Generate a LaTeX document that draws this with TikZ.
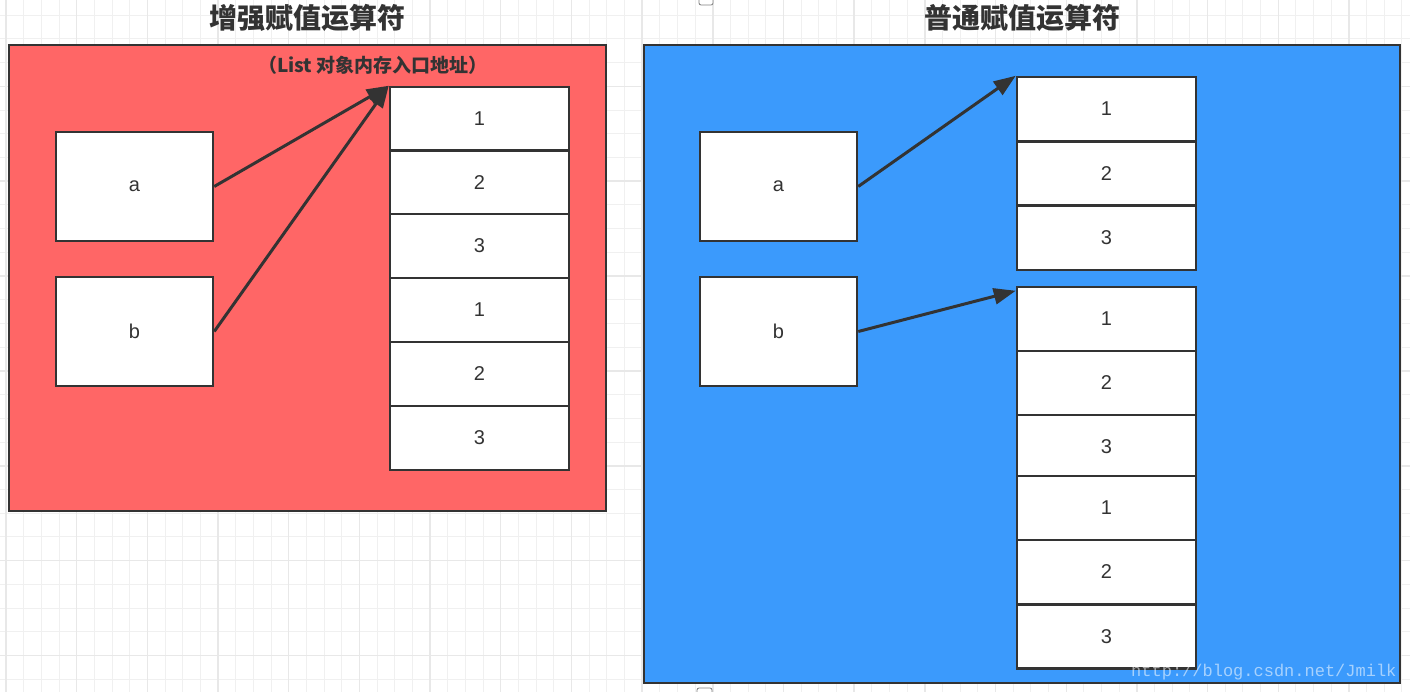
\documentclass[tikz,border=0pt]{standalone}
\usepackage{fontspec}
\setmainfont{Liberation Sans}
\newfontfamily\cjk{Noto Sans CJK SC}
\newfontfamily\wmfont{Liberation Mono}
\usetikzlibrary{arrows.meta}
\definecolor{redfill}{RGB}{255,102,102}
\definecolor{bluefill}{RGB}{59,154,252}
\definecolor{edge}{RGB}{51,51,51}
\definecolor{gminorc}{RGB}{240,240,240}
\definecolor{gmajorc}{RGB}{232,232,232}
\definecolor{titlec}{RGB}{51,51,51}
\tikzset{
  gminor/.style={draw=gminorc, line width=1pt},
  gmajor/.style={draw=gmajorc, line width=1.4pt},
  panel/.style={draw=edge, line width=2.8pt},
  varbox/.style={draw=edge, fill=white, line width=2.5pt, minimum width=157pt, minimum height=109pt, inner sep=0pt, font=\fontsize{20}{20}\selectfont, text=edge},
  cell/.style={draw=edge, fill=white, line width=2.5pt, minimum width=179pt, minimum height=64pt, inner sep=0pt, font=\fontsize{20}{20}\selectfont, text=edge},
  arr/.style={draw=edge, line width=3pt, -{Triangle[length=22pt,width=16pt]}},
  titletext/.style={font=\cjk\bfseries\fontsize{28}{28}\selectfont, text=titlec},
  subtext/.style={font=\cjk\bfseries\fontsize{19}{19}\selectfont, text=titlec},
  tick/.style={draw=gray, fill=white, line width=0.8pt, rounded corners=2pt}
}
\begin{document}
\begin{tikzpicture}[x=1pt,y=-1pt]
\useasboundingbox (0,0) rectangle (1410,692);
\fill[white] (0,0) rectangle (1410,692);
% grid
\foreach \k in {0,...,79} {\pgfmathsetmacro\xx{6+17.67*\k}\draw[gminor] (\xx,0) -- (\xx,692);}
\foreach \k in {0,...,29} {\pgfmathsetmacro\yy{15.14+23.72*\k}\draw[gminor] (0,\yy) -- (1410,\yy);}
\foreach \k in {0,...,19} {\pgfmathsetmacro\xx{6+70.68*\k}\draw[gmajor] (\xx,0) -- (\xx,692);}
\foreach \k in {0,...,7} {\pgfmathsetmacro\yy{86.3+94.88*\k}\draw[gmajor] (0,\yy) -- (1410,\yy);}
% small markers
\draw[tick] (699,-6) rectangle (713,5);
\draw[tick] (697,688) rectangle (712,698);
% titles
\node[titletext] (t1) at (307,18) {增强赋值运算符};
\node[titletext] (t2) at (1022,18) {普通赋值运算符};
% panels
\draw[panel, fill=redfill] (9,45) rectangle (606,511);
\draw[panel, fill=bluefill] (644,45) rectangle (1400,683);
\node[subtext] (sub) at (373,65) {（List 对象内存入口地址）};
% left side
\node[varbox] (la) at (134.5,186.5) {\raisebox{-2pt}{a}};
\node[varbox] (lb) at (134.5,331.5) {b};
\node[cell] (l1) at (479.5,119) {1};
\node[cell] (l2) at (479.5,182.5) {2};
\node[cell] (l3) at (479.5,246) {3};
\node[cell] (l4) at (479.5,310) {1};
\node[cell] (l5) at (479.5,374) {2};
\node[cell] (l6) at (479.5,438) {3};
\draw[arr] (la.east) -- (l1.north west);
\draw[arr] (lb.east) -- (l1.north west);
% right side
\node[varbox] (ra) at (778.5,186.5) {\raisebox{-2pt}{a}};
\node[varbox] (rb) at (778.5,331.5) {b};
\node[cell] (r1) at (1106.5,109) {1};
\node[cell] (r2) at (1106.5,173.5) {2};
\node[cell] (r3) at (1106.5,238) {3};
\node[cell] (s1) at (1106.5,319) {1};
\node[cell] (s2) at (1106.5,383) {2};
\node[cell] (s3) at (1106.5,447) {3};
\node[cell] (s4) at (1106.5,508) {1};
\node[cell] (s5) at (1106.5,572) {2};
\node[cell] (s6) at (1106.5,636.5) {3};
\draw[arr] (ra.east) -- (r1.north west);
\coordinate (sin) at ([yshift=-5pt]s1.north west);
\draw[arr] (rb.east) -- (sin);
% watermark
\node[font=\wmfont\fontsize{17}{17}\selectfont, text=white, opacity=0.55, anchor=east] (wm) at (1400,672) {http://blog.csdn.net/Jmilk};
\end{tikzpicture}
\end{document}
